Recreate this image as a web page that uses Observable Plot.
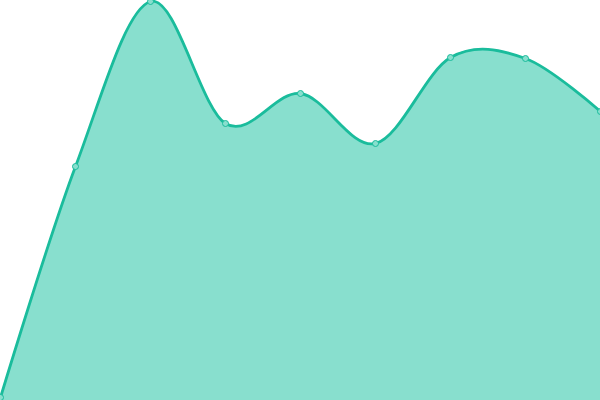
<!DOCTYPE html>
<html>
<head>
<meta charset="utf-8">
<script src="https://cdn.jsdelivr.net/npm/d3@7"></script>
<script src="https://cdn.jsdelivr.net/npm/@observablehq/plot@0.6"></script>
<style>
html, body { margin: 0; padding: 0; background: #fff; overflow: hidden; }
#chart svg { display: block; }
</style>
</head>
<body>
<div id="chart"></div>
<script>
const xIndex = [0, 1, 2, 3, 4, 5, 6, 7, 8];
const values = [3, 234, 399, 277, 307, 257, 343, 342, 289];

const data = xIndex.map((x, i) => ({x, y: values[i]}));

const chart = Plot.plot({
  width: 600,
  height: 400,
  margin: 0,
  x: {domain: [0, 8], axis: null},
  y: {domain: [0, 400], axis: null},
  marks: [
    Plot.areaY(data, {x: "x", y: "y", curve: "cardinal", fill: "#88dfce"}),
    Plot.lineY(data, {x: "x", y: "y", curve: "cardinal", stroke: "#1abc9c", strokeWidth: 2.8}),
    Plot.dot(data, {x: "x", y: "y", r: 3, fill: "#88dfce", stroke: "#1abc9c", strokeWidth: 1})
  ]
});
document.getElementById("chart").appendChild(chart);
</script>
</body>
</html>
